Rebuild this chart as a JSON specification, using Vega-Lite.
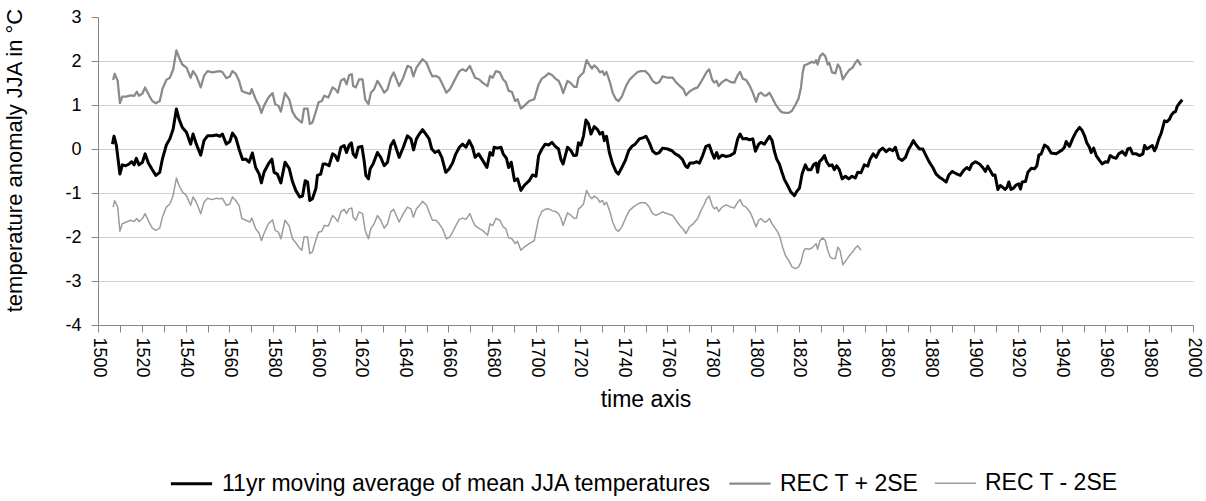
{
"$schema": "https://vega.github.io/schema/vega-lite/v6.json",
"width": 1095,
"height": 308,
"autosize": {"type": "none"},
"padding": {"left": 98, "top": 17, "right": 13, "bottom": 176},
"background": "white",
"config": {
  "font": "Liberation Sans",
  "view": {"stroke": null}
},
"data": {"values": [
{"series":"mean","year":1506.6,"value":0.11},{"series":"mean","year":1507.3,"value":0.29},{"series":"mean","year":1508.4,"value":0.08},{"series":"mean","year":1510.0,"value":-0.57},{"series":"mean","year":1511.1,"value":-0.36},{"series":"mean","year":1512.7,"value":-0.38},{"series":"mean","year":1514.2,"value":-0.34},{"series":"mean","year":1515.4,"value":-0.29},{"series":"mean","year":1516.5,"value":-0.36},{"series":"mean","year":1517.5,"value":-0.21},{"series":"mean","year":1518.7,"value":-0.36},{"series":"mean","year":1520.3,"value":-0.30},{"series":"mean","year":1521.5,"value":-0.11},{"series":"mean","year":1523.0,"value":-0.32},{"series":"mean","year":1524.8,"value":-0.47},{"series":"mean","year":1526.4,"value":-0.60},{"series":"mean","year":1528.2,"value":-0.53},{"series":"mean","year":1529.4,"value":-0.23},{"series":"mean","year":1531.2,"value":0.09},{"series":"mean","year":1532.8,"value":0.23},{"series":"mean","year":1534.3,"value":0.45},{"series":"mean","year":1535.8,"value":0.91},{"series":"mean","year":1537.0,"value":0.68},{"series":"mean","year":1538.5,"value":0.49},{"series":"mean","year":1540.4,"value":0.38},{"series":"mean","year":1542.3,"value":0.11},{"series":"mean","year":1543.4,"value":0.34},{"series":"mean","year":1544.9,"value":0.11},{"series":"mean","year":1546.9,"value":-0.14},{"series":"mean","year":1548.4,"value":0.19},{"series":"mean","year":1550.0,"value":0.30},{"series":"mean","year":1552.2,"value":0.30},{"series":"mean","year":1554.1,"value":0.32},{"series":"mean","year":1555.6,"value":0.29},{"series":"mean","year":1556.8,"value":0.34},{"series":"mean","year":1558.6,"value":0.11},{"series":"mean","year":1560.2,"value":0.17},{"series":"mean","year":1561.4,"value":0.36},{"series":"mean","year":1562.9,"value":0.26},{"series":"mean","year":1564.4,"value":0.00},{"series":"mean","year":1566.0,"value":-0.24},{"series":"mean","year":1567.5,"value":-0.23},{"series":"mean","year":1569.0,"value":-0.30},{"series":"mean","year":1570.5,"value":-0.09},{"series":"mean","year":1572.0,"value":-0.42},{"series":"mean","year":1573.6,"value":-0.57},{"series":"mean","year":1574.6,"value":-0.77},{"series":"mean","year":1575.8,"value":-0.53},{"series":"mean","year":1577.8,"value":-0.34},{"series":"mean","year":1579.4,"value":-0.23},{"series":"mean","year":1580.4,"value":-0.53},{"series":"mean","year":1581.9,"value":-0.57},{"series":"mean","year":1583.5,"value":-0.77},{"series":"mean","year":1585.4,"value":-0.30},{"series":"mean","year":1587.3,"value":-0.44},{"series":"mean","year":1588.8,"value":-0.74},{"series":"mean","year":1590.3,"value":-0.94},{"series":"mean","year":1592.1,"value":-1.09},{"series":"mean","year":1593.4,"value":-1.07},{"series":"mean","year":1594.6,"value":-0.72},{"series":"mean","year":1595.7,"value":-0.75},{"series":"mean","year":1596.7,"value":-1.17},{"series":"mean","year":1597.9,"value":-1.13},{"series":"mean","year":1599.5,"value":-0.90},{"series":"mean","year":1600.2,"value":-0.60},{"series":"mean","year":1601.7,"value":-0.57},{"series":"mean","year":1602.8,"value":-0.34},{"series":"mean","year":1604.0,"value":-0.34},{"series":"mean","year":1605.5,"value":-0.38},{"series":"mean","year":1607.1,"value":-0.11},{"series":"mean","year":1608.3,"value":-0.15},{"series":"mean","year":1609.5,"value":-0.26},{"series":"mean","year":1610.9,"value":0.04},{"series":"mean","year":1612.4,"value":0.08},{"series":"mean","year":1613.5,"value":-0.08},{"series":"mean","year":1614.7,"value":0.09},{"series":"mean","year":1615.7,"value":0.14},{"series":"mean","year":1616.5,"value":-0.11},{"series":"mean","year":1617.7,"value":-0.19},{"series":"mean","year":1618.9,"value":0.04},{"series":"mean","year":1620.5,"value":0.06},{"series":"mean","year":1621.5,"value":-0.26},{"series":"mean","year":1622.3,"value":-0.60},{"series":"mean","year":1623.5,"value":-0.68},{"series":"mean","year":1624.3,"value":-0.45},{"series":"mean","year":1625.6,"value":-0.34},{"series":"mean","year":1627.6,"value":-0.08},{"series":"mean","year":1629.1,"value":-0.19},{"series":"mean","year":1630.7,"value":-0.38},{"series":"mean","year":1632.2,"value":-0.30},{"series":"mean","year":1633.7,"value":0.08},{"series":"mean","year":1635.0,"value":0.19},{"series":"mean","year":1636.0,"value":0.04},{"series":"mean","year":1637.5,"value":-0.19},{"series":"mean","year":1639.4,"value":0.04},{"series":"mean","year":1641.3,"value":0.30},{"series":"mean","year":1642.9,"value":0.23},{"series":"mean","year":1644.1,"value":-0.02},{"series":"mean","year":1645.4,"value":0.23},{"series":"mean","year":1646.7,"value":0.34},{"series":"mean","year":1648.2,"value":0.44},{"series":"mean","year":1649.7,"value":0.34},{"series":"mean","year":1651.2,"value":0.23},{"series":"mean","year":1652.4,"value":0.00},{"series":"mean","year":1653.9,"value":-0.08},{"series":"mean","year":1655.5,"value":-0.04},{"series":"mean","year":1657.0,"value":-0.19},{"series":"mean","year":1658.8,"value":-0.53},{"series":"mean","year":1660.4,"value":-0.45},{"series":"mean","year":1661.9,"value":-0.32},{"series":"mean","year":1663.4,"value":-0.11},{"series":"mean","year":1665.0,"value":0.04},{"series":"mean","year":1666.5,"value":0.11},{"series":"mean","year":1668.0,"value":0.04},{"series":"mean","year":1669.5,"value":0.19},{"series":"mean","year":1671.0,"value":0.04},{"series":"mean","year":1672.2,"value":-0.19},{"series":"mean","year":1673.8,"value":-0.11},{"series":"mean","year":1675.3,"value":-0.23},{"series":"mean","year":1677.6,"value":-0.42},{"series":"mean","year":1679.0,"value":-0.08},{"series":"mean","year":1680.2,"value":-0.14},{"series":"mean","year":1680.9,"value":0.04},{"series":"mean","year":1682.4,"value":0.02},{"series":"mean","year":1684.0,"value":0.04},{"series":"mean","year":1685.0,"value":-0.11},{"series":"mean","year":1686.5,"value":-0.21},{"series":"mean","year":1687.5,"value":-0.42},{"series":"mean","year":1688.7,"value":-0.30},{"series":"mean","year":1690.2,"value":-0.72},{"series":"mean","year":1691.6,"value":-0.68},{"series":"mean","year":1693.1,"value":-0.94},{"series":"mean","year":1694.6,"value":-0.83},{"series":"mean","year":1696.9,"value":-0.72},{"series":"mean","year":1698.4,"value":-0.59},{"series":"mean","year":1700.0,"value":-0.62},{"series":"mean","year":1701.2,"value":-0.15},{"series":"mean","year":1702.7,"value":0.00},{"series":"mean","year":1704.2,"value":0.11},{"series":"mean","year":1705.7,"value":0.09},{"series":"mean","year":1707.3,"value":0.15},{"series":"mean","year":1708.8,"value":0.06},{"series":"mean","year":1710.3,"value":0.00},{"series":"mean","year":1711.4,"value":-0.24},{"series":"mean","year":1712.4,"value":-0.34},{"series":"mean","year":1714.4,"value":0.04},{"series":"mean","year":1716.0,"value":-0.04},{"series":"mean","year":1717.2,"value":-0.15},{"series":"mean","year":1718.5,"value":-0.14},{"series":"mean","year":1719.4,"value":0.14},{"series":"mean","year":1720.5,"value":0.09},{"series":"mean","year":1721.7,"value":0.30},{"series":"mean","year":1722.8,"value":0.66},{"series":"mean","year":1724.0,"value":0.57},{"series":"mean","year":1725.1,"value":0.34},{"series":"mean","year":1726.6,"value":0.51},{"series":"mean","year":1728.1,"value":0.44},{"series":"mean","year":1729.2,"value":0.34},{"series":"mean","year":1730.4,"value":0.38},{"series":"mean","year":1731.2,"value":0.19},{"series":"mean","year":1732.2,"value":0.29},{"series":"mean","year":1733.5,"value":-0.08},{"series":"mean","year":1735.0,"value":-0.34},{"series":"mean","year":1736.5,"value":-0.51},{"series":"mean","year":1737.6,"value":-0.57},{"series":"mean","year":1739.2,"value":-0.42},{"series":"mean","year":1740.8,"value":-0.26},{"series":"mean","year":1742.3,"value":-0.04},{"series":"mean","year":1743.8,"value":0.06},{"series":"mean","year":1745.3,"value":0.11},{"series":"mean","year":1747.2,"value":0.23},{"series":"mean","year":1749.0,"value":0.26},{"series":"mean","year":1750.2,"value":0.29},{"series":"mean","year":1751.7,"value":0.15},{"series":"mean","year":1753.2,"value":-0.04},{"series":"mean","year":1754.8,"value":-0.11},{"series":"mean","year":1756.3,"value":-0.08},{"series":"mean","year":1757.8,"value":0.02},{"series":"mean","year":1760.1,"value":0.00},{"series":"mean","year":1762.1,"value":-0.04},{"series":"mean","year":1763.6,"value":-0.11},{"series":"mean","year":1765.1,"value":-0.15},{"series":"mean","year":1766.9,"value":-0.24},{"series":"mean","year":1768.2,"value":-0.38},{"series":"mean","year":1769.2,"value":-0.42},{"series":"mean","year":1770.3,"value":-0.32},{"series":"mean","year":1771.8,"value":-0.32},{"series":"mean","year":1773.4,"value":-0.29},{"series":"mean","year":1774.6,"value":-0.32},{"series":"mean","year":1776.1,"value":-0.15},{"series":"mean","year":1777.6,"value":0.06},{"series":"mean","year":1779.1,"value":0.09},{"series":"mean","year":1780.4,"value":-0.09},{"series":"mean","year":1781.4,"value":-0.21},{"series":"mean","year":1782.5,"value":-0.08},{"series":"mean","year":1783.4,"value":-0.21},{"series":"mean","year":1785.0,"value":-0.14},{"series":"mean","year":1786.8,"value":-0.17},{"series":"mean","year":1788.6,"value":-0.15},{"series":"mean","year":1790.6,"value":-0.09},{"series":"mean","year":1792.1,"value":0.23},{"series":"mean","year":1793.2,"value":0.34},{"series":"mean","year":1794.4,"value":0.23},{"series":"mean","year":1795.9,"value":0.24},{"series":"mean","year":1797.4,"value":0.21},{"series":"mean","year":1799.0,"value":0.23},{"series":"mean","year":1800.2,"value":-0.05},{"series":"mean","year":1801.7,"value":0.11},{"series":"mean","year":1802.7,"value":0.15},{"series":"mean","year":1804.3,"value":0.11},{"series":"mean","year":1805.3,"value":0.19},{"series":"mean","year":1806.6,"value":0.29},{"series":"mean","year":1807.8,"value":0.19},{"series":"mean","year":1808.8,"value":-0.04},{"series":"mean","year":1809.9,"value":-0.23},{"series":"mean","year":1811.1,"value":-0.34},{"series":"mean","year":1812.3,"value":-0.53},{"series":"mean","year":1813.4,"value":-0.69},{"series":"mean","year":1814.9,"value":-0.83},{"series":"mean","year":1816.4,"value":-0.98},{"series":"mean","year":1818.0,"value":-1.06},{"series":"mean","year":1819.0,"value":-0.97},{"series":"mean","year":1820.3,"value":-0.89},{"series":"mean","year":1821.5,"value":-0.57},{"series":"mean","year":1823.0,"value":-0.36},{"series":"mean","year":1824.1,"value":-0.47},{"series":"mean","year":1825.6,"value":-0.47},{"series":"mean","year":1826.7,"value":-0.36},{"series":"mean","year":1827.9,"value":-0.32},{"series":"mean","year":1828.6,"value":-0.53},{"series":"mean","year":1829.4,"value":-0.29},{"series":"mean","year":1830.6,"value":-0.23},{"series":"mean","year":1831.7,"value":-0.15},{"series":"mean","year":1832.7,"value":-0.29},{"series":"mean","year":1833.9,"value":-0.38},{"series":"mean","year":1835.2,"value":-0.36},{"series":"mean","year":1836.2,"value":-0.47},{"series":"mean","year":1837.3,"value":-0.38},{"series":"mean","year":1838.5,"value":-0.47},{"series":"mean","year":1839.8,"value":-0.68},{"series":"mean","year":1841.3,"value":-0.62},{"series":"mean","year":1842.8,"value":-0.68},{"series":"mean","year":1844.3,"value":-0.62},{"series":"mean","year":1845.8,"value":-0.66},{"series":"mean","year":1846.9,"value":-0.53},{"series":"mean","year":1848.4,"value":-0.54},{"series":"mean","year":1849.9,"value":-0.36},{"series":"mean","year":1851.5,"value":-0.39},{"series":"mean","year":1852.5,"value":-0.24},{"series":"mean","year":1854.0,"value":-0.11},{"series":"mean","year":1855.3,"value":-0.19},{"series":"mean","year":1856.8,"value":-0.04},{"series":"mean","year":1858.3,"value":0.02},{"series":"mean","year":1859.9,"value":-0.06},{"series":"mean","year":1861.4,"value":0.00},{"series":"mean","year":1862.9,"value":-0.04},{"series":"mean","year":1864.1,"value":0.04},{"series":"mean","year":1865.6,"value":-0.21},{"series":"mean","year":1867.2,"value":-0.26},{"series":"mean","year":1868.7,"value":-0.19},{"series":"mean","year":1870.2,"value":0.00},{"series":"mean","year":1871.3,"value":0.09},{"series":"mean","year":1872.3,"value":0.19},{"series":"mean","year":1873.6,"value":0.09},{"series":"mean","year":1875.1,"value":0.00},{"series":"mean","year":1876.6,"value":0.00},{"series":"mean","year":1878.1,"value":-0.15},{"series":"mean","year":1879.6,"value":-0.30},{"series":"mean","year":1881.2,"value":-0.42},{"series":"mean","year":1882.7,"value":-0.57},{"series":"mean","year":1884.2,"value":-0.64},{"series":"mean","year":1885.7,"value":-0.69},{"series":"mean","year":1887.3,"value":-0.75},{"series":"mean","year":1888.5,"value":-0.59},{"series":"mean","year":1890.0,"value":-0.51},{"series":"mean","year":1891.1,"value":-0.54},{"series":"mean","year":1892.3,"value":-0.57},{"series":"mean","year":1893.7,"value":-0.60},{"series":"mean","year":1895.2,"value":-0.49},{"series":"mean","year":1896.7,"value":-0.42},{"series":"mean","year":1897.9,"value":-0.47},{"series":"mean","year":1899.1,"value":-0.34},{"series":"mean","year":1900.7,"value":-0.29},{"series":"mean","year":1902.5,"value":-0.34},{"series":"mean","year":1904.0,"value":-0.42},{"series":"mean","year":1905.2,"value":-0.51},{"series":"mean","year":1906.3,"value":-0.39},{"series":"mean","year":1907.4,"value":-0.49},{"series":"mean","year":1908.6,"value":-0.60},{"series":"mean","year":1909.6,"value":-0.59},{"series":"mean","year":1910.9,"value":-0.92},{"series":"mean","year":1912.0,"value":-0.83},{"series":"mean","year":1913.1,"value":-0.87},{"series":"mean","year":1914.2,"value":-0.92},{"series":"mean","year":1915.1,"value":-0.87},{"series":"mean","year":1915.9,"value":-0.75},{"series":"mean","year":1916.9,"value":-0.92},{"series":"mean","year":1918.0,"value":-0.89},{"series":"mean","year":1919.2,"value":-0.82},{"series":"mean","year":1920.5,"value":-0.79},{"series":"mean","year":1921.2,"value":-0.91},{"series":"mean","year":1922.0,"value":-0.75},{"series":"mean","year":1923.5,"value":-0.74},{"series":"mean","year":1924.6,"value":-0.53},{"series":"mean","year":1926.1,"value":-0.44},{"series":"mean","year":1927.6,"value":-0.45},{"series":"mean","year":1928.7,"value":-0.38},{"series":"mean","year":1929.6,"value":-0.14},{"series":"mean","year":1930.7,"value":-0.11},{"series":"mean","year":1932.2,"value":0.09},{"series":"mean","year":1933.7,"value":0.04},{"series":"mean","year":1935.2,"value":-0.09},{"series":"mean","year":1937.5,"value":-0.11},{"series":"mean","year":1939.0,"value":-0.06},{"series":"mean","year":1940.3,"value":-0.02},{"series":"mean","year":1941.3,"value":0.04},{"series":"mean","year":1942.1,"value":0.17},{"series":"mean","year":1943.6,"value":0.06},{"series":"mean","year":1945.1,"value":0.24},{"series":"mean","year":1946.6,"value":0.39},{"series":"mean","year":1948.2,"value":0.49},{"series":"mean","year":1949.4,"value":0.42},{"series":"mean","year":1950.5,"value":0.30},{"series":"mean","year":1951.5,"value":0.14},{"series":"mean","year":1952.7,"value":0.04},{"series":"mean","year":1953.5,"value":-0.08},{"series":"mean","year":1954.6,"value":0.02},{"series":"mean","year":1955.8,"value":-0.15},{"series":"mean","year":1957.3,"value":-0.26},{"series":"mean","year":1958.5,"value":-0.34},{"series":"mean","year":1960.0,"value":-0.29},{"series":"mean","year":1961.1,"value":-0.30},{"series":"mean","year":1962.2,"value":-0.15},{"series":"mean","year":1963.4,"value":-0.19},{"series":"mean","year":1964.9,"value":-0.21},{"series":"mean","year":1966.1,"value":-0.11},{"series":"mean","year":1967.7,"value":-0.06},{"series":"mean","year":1969.2,"value":-0.14},{"series":"mean","year":1970.2,"value":0.00},{"series":"mean","year":1971.3,"value":0.02},{"series":"mean","year":1972.5,"value":-0.11},{"series":"mean","year":1974.1,"value":-0.11},{"series":"mean","year":1975.6,"value":-0.15},{"series":"mean","year":1977.1,"value":-0.11},{"series":"mean","year":1977.9,"value":0.08},{"series":"mean","year":1978.9,"value":0.00},{"series":"mean","year":1980.1,"value":0.04},{"series":"mean","year":1981.4,"value":0.08},{"series":"mean","year":1982.4,"value":-0.04},{"series":"mean","year":1983.2,"value":0.04},{"series":"mean","year":1984.4,"value":0.23},{"series":"mean","year":1985.5,"value":0.36},{"series":"mean","year":1986.2,"value":0.49},{"series":"mean","year":1987.0,"value":0.64},{"series":"mean","year":1988.1,"value":0.62},{"series":"mean","year":1989.3,"value":0.68},{"series":"mean","year":1990.1,"value":0.77},{"series":"mean","year":1991.1,"value":0.83},{"series":"mean","year":1992.0,"value":0.85},{"series":"mean","year":1992.8,"value":0.97},{"series":"mean","year":1993.8,"value":1.04},{"series":"mean","year":1995.1,"value":1.12},
{"series":"upper","year":1506.9,"value":1.57},{"series":"upper","year":1507.6,"value":1.71},{"series":"upper","year":1509.0,"value":1.55},{"series":"upper","year":1510.0,"value":1.04},{"series":"upper","year":1511.1,"value":1.19},{"series":"upper","year":1512.9,"value":1.19},{"series":"upper","year":1514.9,"value":1.22},{"series":"upper","year":1516.5,"value":1.21},{"series":"upper","year":1517.7,"value":1.30},{"series":"upper","year":1518.7,"value":1.21},{"series":"upper","year":1520.3,"value":1.26},{"series":"upper","year":1521.5,"value":1.40},{"series":"upper","year":1523.3,"value":1.22},{"series":"upper","year":1524.8,"value":1.09},{"series":"upper","year":1526.4,"value":1.04},{"series":"upper","year":1528.2,"value":1.09},{"series":"upper","year":1529.4,"value":1.36},{"series":"upper","year":1531.2,"value":1.57},{"series":"upper","year":1532.8,"value":1.62},{"series":"upper","year":1534.3,"value":1.80},{"series":"upper","year":1535.8,"value":2.24},{"series":"upper","year":1537.0,"value":2.08},{"series":"upper","year":1538.5,"value":1.92},{"series":"upper","year":1540.4,"value":1.85},{"series":"upper","year":1542.3,"value":1.62},{"series":"upper","year":1543.4,"value":1.77},{"series":"upper","year":1544.9,"value":1.66},{"series":"upper","year":1546.9,"value":1.40},{"series":"upper","year":1548.4,"value":1.66},{"series":"upper","year":1550.0,"value":1.77},{"series":"upper","year":1552.2,"value":1.74},{"series":"upper","year":1554.1,"value":1.76},{"series":"upper","year":1555.6,"value":1.77},{"series":"upper","year":1556.8,"value":1.75},{"series":"upper","year":1558.6,"value":1.61},{"series":"upper","year":1560.2,"value":1.65},{"series":"upper","year":1561.4,"value":1.77},{"series":"upper","year":1562.9,"value":1.71},{"series":"upper","year":1564.4,"value":1.55},{"series":"upper","year":1565.7,"value":1.32},{"series":"upper","year":1567.5,"value":1.28},{"series":"upper","year":1569.4,"value":1.25},{"series":"upper","year":1570.2,"value":1.36},{"series":"upper","year":1572.0,"value":1.13},{"series":"upper","year":1573.6,"value":0.98},{"series":"upper","year":1574.6,"value":0.82},{"series":"upper","year":1575.8,"value":0.98},{"series":"upper","year":1577.8,"value":1.17},{"series":"upper","year":1579.7,"value":1.27},{"series":"upper","year":1580.9,"value":1.02},{"series":"upper","year":1582.4,"value":0.98},{"series":"upper","year":1583.5,"value":0.85},{"series":"upper","year":1585.4,"value":1.27},{"series":"upper","year":1587.3,"value":1.13},{"series":"upper","year":1588.8,"value":0.85},{"series":"upper","year":1590.3,"value":0.72},{"series":"upper","year":1592.1,"value":0.64},{"series":"upper","year":1593.1,"value":0.60},{"series":"upper","year":1594.1,"value":0.92},{"series":"upper","year":1595.7,"value":0.92},{"series":"upper","year":1596.7,"value":0.57},{"series":"upper","year":1597.9,"value":0.60},{"series":"upper","year":1599.1,"value":0.79},{"series":"upper","year":1600.7,"value":1.06},{"series":"upper","year":1602.2,"value":1.09},{"series":"upper","year":1603.3,"value":1.21},{"series":"upper","year":1605.2,"value":1.17},{"series":"upper","year":1607.1,"value":1.40},{"series":"upper","year":1608.3,"value":1.36},{"series":"upper","year":1609.5,"value":1.28},{"series":"upper","year":1610.9,"value":1.55},{"series":"upper","year":1612.4,"value":1.60},{"series":"upper","year":1613.5,"value":1.47},{"series":"upper","year":1614.7,"value":1.68},{"series":"upper","year":1615.9,"value":1.70},{"series":"upper","year":1616.5,"value":1.43},{"series":"upper","year":1617.7,"value":1.40},{"series":"upper","year":1619.2,"value":1.58},{"series":"upper","year":1620.8,"value":1.58},{"series":"upper","year":1622.0,"value":1.13},{"series":"upper","year":1623.5,"value":1.02},{"series":"upper","year":1624.6,"value":1.28},{"series":"upper","year":1626.1,"value":1.36},{"series":"upper","year":1627.6,"value":1.55},{"series":"upper","year":1629.1,"value":1.43},{"series":"upper","year":1630.7,"value":1.28},{"series":"upper","year":1632.2,"value":1.36},{"series":"upper","year":1633.7,"value":1.62},{"series":"upper","year":1635.0,"value":1.74},{"series":"upper","year":1636.0,"value":1.62},{"series":"upper","year":1637.5,"value":1.43},{"series":"upper","year":1639.4,"value":1.62},{"series":"upper","year":1641.3,"value":1.89},{"series":"upper","year":1642.9,"value":1.85},{"series":"upper","year":1644.0,"value":1.65},{"series":"upper","year":1645.4,"value":1.85},{"series":"upper","year":1647.0,"value":1.96},{"series":"upper","year":1648.2,"value":2.04},{"series":"upper","year":1650.0,"value":1.96},{"series":"upper","year":1651.5,"value":1.77},{"series":"upper","year":1652.7,"value":1.65},{"series":"upper","year":1654.3,"value":1.66},{"series":"upper","year":1655.8,"value":1.62},{"series":"upper","year":1657.3,"value":1.47},{"series":"upper","year":1659.1,"value":1.28},{"series":"upper","year":1660.7,"value":1.36},{"series":"upper","year":1661.9,"value":1.47},{"series":"upper","year":1663.4,"value":1.62},{"series":"upper","year":1665.0,"value":1.77},{"series":"upper","year":1666.5,"value":1.81},{"series":"upper","year":1668.0,"value":1.77},{"series":"upper","year":1669.8,"value":1.89},{"series":"upper","year":1671.0,"value":1.75},{"series":"upper","year":1672.2,"value":1.62},{"series":"upper","year":1674.1,"value":1.58},{"series":"upper","year":1675.6,"value":1.51},{"series":"upper","year":1677.9,"value":1.43},{"series":"upper","year":1679.0,"value":1.66},{"series":"upper","year":1680.2,"value":1.62},{"series":"upper","year":1681.7,"value":1.77},{"series":"upper","year":1683.5,"value":1.74},{"series":"upper","year":1685.0,"value":1.58},{"series":"upper","year":1686.2,"value":1.52},{"series":"upper","year":1687.5,"value":1.32},{"series":"upper","year":1689.0,"value":1.30},{"series":"upper","year":1690.5,"value":1.09},{"series":"upper","year":1691.6,"value":1.13},{"series":"upper","year":1693.1,"value":0.92},{"series":"upper","year":1694.6,"value":0.98},{"series":"upper","year":1696.9,"value":1.09},{"series":"upper","year":1699.2,"value":1.13},{"series":"upper","year":1701.2,"value":1.47},{"series":"upper","year":1702.7,"value":1.60},{"series":"upper","year":1704.2,"value":1.65},{"series":"upper","year":1705.7,"value":1.72},{"series":"upper","year":1707.3,"value":1.68},{"series":"upper","year":1708.8,"value":1.60},{"series":"upper","year":1710.3,"value":1.55},{"series":"upper","year":1711.4,"value":1.43},{"series":"upper","year":1712.4,"value":1.27},{"series":"upper","year":1714.4,"value":1.55},{"series":"upper","year":1716.0,"value":1.49},{"series":"upper","year":1717.5,"value":1.41},{"series":"upper","year":1718.5,"value":1.41},{"series":"upper","year":1719.4,"value":1.62},{"series":"upper","year":1720.5,"value":1.68},{"series":"upper","year":1721.7,"value":1.74},{"series":"upper","year":1723.1,"value":2.02},{"series":"upper","year":1724.3,"value":1.92},{"series":"upper","year":1725.5,"value":1.83},{"series":"upper","year":1726.6,"value":1.90},{"series":"upper","year":1728.1,"value":1.83},{"series":"upper","year":1729.2,"value":1.74},{"series":"upper","year":1730.4,"value":1.77},{"series":"upper","year":1731.2,"value":1.68},{"series":"upper","year":1732.2,"value":1.75},{"series":"upper","year":1733.8,"value":1.51},{"series":"upper","year":1735.0,"value":1.28},{"series":"upper","year":1736.5,"value":1.13},{"series":"upper","year":1737.7,"value":1.09},{"series":"upper","year":1739.2,"value":1.19},{"series":"upper","year":1741.1,"value":1.43},{"series":"upper","year":1742.6,"value":1.57},{"series":"upper","year":1744.4,"value":1.66},{"series":"upper","year":1746.4,"value":1.75},{"series":"upper","year":1747.9,"value":1.77},{"series":"upper","year":1749.9,"value":1.77},{"series":"upper","year":1751.7,"value":1.68},{"series":"upper","year":1753.2,"value":1.55},{"series":"upper","year":1754.8,"value":1.49},{"series":"upper","year":1756.3,"value":1.52},{"series":"upper","year":1757.8,"value":1.65},{"series":"upper","year":1760.1,"value":1.62},{"series":"upper","year":1762.4,"value":1.62},{"series":"upper","year":1763.9,"value":1.52},{"series":"upper","year":1765.7,"value":1.43},{"series":"upper","year":1767.3,"value":1.36},{"series":"upper","year":1768.5,"value":1.22},{"series":"upper","year":1770.0,"value":1.30},{"series":"upper","year":1771.8,"value":1.36},{"series":"upper","year":1773.8,"value":1.40},{"series":"upper","year":1775.3,"value":1.52},{"series":"upper","year":1776.9,"value":1.66},{"series":"upper","year":1777.9,"value":1.75},{"series":"upper","year":1779.1,"value":1.81},{"series":"upper","year":1780.4,"value":1.58},{"series":"upper","year":1781.4,"value":1.51},{"series":"upper","year":1782.5,"value":1.55},{"series":"upper","year":1783.4,"value":1.43},{"series":"upper","year":1785.0,"value":1.52},{"series":"upper","year":1786.8,"value":1.58},{"series":"upper","year":1789.0,"value":1.52},{"series":"upper","year":1790.6,"value":1.51},{"series":"upper","year":1792.1,"value":1.68},{"series":"upper","year":1793.2,"value":1.75},{"series":"upper","year":1794.4,"value":1.60},{"series":"upper","year":1795.9,"value":1.57},{"series":"upper","year":1797.7,"value":1.43},{"series":"upper","year":1799.0,"value":1.28},{"series":"upper","year":1800.5,"value":1.07},{"series":"upper","year":1801.7,"value":1.25},{"series":"upper","year":1802.7,"value":1.28},{"series":"upper","year":1804.3,"value":1.21},{"series":"upper","year":1805.3,"value":1.22},{"series":"upper","year":1806.6,"value":1.28},{"series":"upper","year":1807.8,"value":1.17},{"series":"upper","year":1809.3,"value":1.02},{"series":"upper","year":1810.4,"value":0.94},{"series":"upper","year":1811.4,"value":0.87},{"series":"upper","year":1812.6,"value":0.83},{"series":"upper","year":1813.9,"value":0.82},{"series":"upper","year":1815.4,"value":0.82},{"series":"upper","year":1816.9,"value":0.87},{"series":"upper","year":1818.4,"value":1.00},{"series":"upper","year":1819.9,"value":1.15},{"series":"upper","year":1821.0,"value":1.40},{"series":"upper","year":1821.8,"value":1.74},{"series":"upper","year":1822.5,"value":1.90},{"series":"upper","year":1823.6,"value":1.92},{"series":"upper","year":1824.8,"value":1.95},{"series":"upper","year":1826.0,"value":1.98},{"series":"upper","year":1827.1,"value":1.96},{"series":"upper","year":1827.9,"value":2.02},{"series":"upper","year":1828.6,"value":1.92},{"series":"upper","year":1829.7,"value":2.11},{"series":"upper","year":1830.9,"value":2.17},{"series":"upper","year":1832.1,"value":2.11},{"series":"upper","year":1833.2,"value":1.92},{"series":"upper","year":1833.9,"value":1.96},{"series":"upper","year":1835.2,"value":1.74},{"series":"upper","year":1836.7,"value":1.72},{"series":"upper","year":1837.8,"value":1.92},{"series":"upper","year":1838.8,"value":1.85},{"series":"upper","year":1840.1,"value":1.58},{"series":"upper","year":1841.6,"value":1.70},{"series":"upper","year":1843.1,"value":1.80},{"series":"upper","year":1844.6,"value":1.85},{"series":"upper","year":1845.8,"value":1.96},{"series":"upper","year":1846.9,"value":2.02},{"series":"upper","year":1848.4,"value":1.90},
{"series":"lower","year":1506.9,"value":-1.32},{"series":"lower","year":1507.6,"value":-1.17},{"series":"lower","year":1509.0,"value":-1.32},{"series":"lower","year":1510.0,"value":-1.87},{"series":"lower","year":1511.1,"value":-1.70},{"series":"lower","year":1512.9,"value":-1.66},{"series":"lower","year":1514.9,"value":-1.62},{"series":"lower","year":1516.5,"value":-1.65},{"series":"lower","year":1517.7,"value":-1.58},{"series":"lower","year":1518.7,"value":-1.65},{"series":"lower","year":1520.3,"value":-1.58},{"series":"lower","year":1521.5,"value":-1.47},{"series":"lower","year":1523.3,"value":-1.66},{"series":"lower","year":1524.8,"value":-1.80},{"series":"lower","year":1526.4,"value":-1.85},{"series":"lower","year":1528.2,"value":-1.80},{"series":"lower","year":1529.4,"value":-1.55},{"series":"lower","year":1531.2,"value":-1.32},{"series":"lower","year":1532.8,"value":-1.25},{"series":"lower","year":1534.3,"value":-1.06},{"series":"lower","year":1535.8,"value":-0.66},{"series":"lower","year":1537.0,"value":-0.83},{"series":"lower","year":1538.5,"value":-0.97},{"series":"lower","year":1540.4,"value":-1.06},{"series":"lower","year":1542.3,"value":-1.28},{"series":"lower","year":1543.4,"value":-1.09},{"series":"lower","year":1544.9,"value":-1.21},{"series":"lower","year":1546.9,"value":-1.47},{"series":"lower","year":1548.4,"value":-1.21},{"series":"lower","year":1550.0,"value":-1.12},{"series":"lower","year":1552.2,"value":-1.15},{"series":"lower","year":1554.1,"value":-1.12},{"series":"lower","year":1555.6,"value":-1.13},{"series":"lower","year":1556.8,"value":-1.12},{"series":"lower","year":1558.6,"value":-1.28},{"series":"lower","year":1560.2,"value":-1.25},{"series":"lower","year":1561.4,"value":-1.09},{"series":"lower","year":1562.9,"value":-1.17},{"series":"lower","year":1564.4,"value":-1.28},{"series":"lower","year":1565.7,"value":-1.58},{"series":"lower","year":1567.5,"value":-1.62},{"series":"lower","year":1569.4,"value":-1.66},{"series":"lower","year":1570.2,"value":-1.57},{"series":"lower","year":1572.0,"value":-1.81},{"series":"lower","year":1573.6,"value":-1.92},{"series":"lower","year":1574.6,"value":-2.08},{"series":"lower","year":1575.8,"value":-1.92},{"series":"lower","year":1577.8,"value":-1.70},{"series":"lower","year":1579.7,"value":-1.61},{"series":"lower","year":1580.9,"value":-1.85},{"series":"lower","year":1582.4,"value":-1.89},{"series":"lower","year":1583.5,"value":-2.04},{"series":"lower","year":1585.4,"value":-1.62},{"series":"lower","year":1587.3,"value":-1.75},{"series":"lower","year":1588.8,"value":-2.04},{"series":"lower","year":1590.3,"value":-2.13},{"series":"lower","year":1592.1,"value":-2.26},{"series":"lower","year":1593.1,"value":-2.30},{"series":"lower","year":1594.1,"value":-2.00},{"series":"lower","year":1595.7,"value":-2.00},{"series":"lower","year":1596.7,"value":-2.38},{"series":"lower","year":1597.9,"value":-2.34},{"series":"lower","year":1599.1,"value":-2.13},{"series":"lower","year":1600.7,"value":-1.89},{"series":"lower","year":1602.2,"value":-1.87},{"series":"lower","year":1603.3,"value":-1.74},{"series":"lower","year":1605.2,"value":-1.75},{"series":"lower","year":1607.1,"value":-1.51},{"series":"lower","year":1608.3,"value":-1.57},{"series":"lower","year":1609.5,"value":-1.65},{"series":"lower","year":1610.9,"value":-1.43},{"series":"lower","year":1612.4,"value":-1.37},{"series":"lower","year":1613.5,"value":-1.47},{"series":"lower","year":1614.7,"value":-1.36},{"series":"lower","year":1615.9,"value":-1.34},{"series":"lower","year":1616.5,"value":-1.55},{"series":"lower","year":1617.7,"value":-1.62},{"series":"lower","year":1619.2,"value":-1.43},{"series":"lower","year":1620.8,"value":-1.47},{"series":"lower","year":1622.0,"value":-1.85},{"series":"lower","year":1623.5,"value":-2.04},{"series":"lower","year":1624.6,"value":-1.81},{"series":"lower","year":1626.1,"value":-1.70},{"series":"lower","year":1627.6,"value":-1.51},{"series":"lower","year":1629.1,"value":-1.62},{"series":"lower","year":1630.7,"value":-1.80},{"series":"lower","year":1632.2,"value":-1.70},{"series":"lower","year":1633.7,"value":-1.43},{"series":"lower","year":1635.0,"value":-1.37},{"series":"lower","year":1636.0,"value":-1.49},{"series":"lower","year":1637.5,"value":-1.66},{"series":"lower","year":1639.4,"value":-1.47},{"series":"lower","year":1641.3,"value":-1.32},{"series":"lower","year":1642.9,"value":-1.36},{"series":"lower","year":1644.0,"value":-1.55},{"series":"lower","year":1645.4,"value":-1.36},{"series":"lower","year":1647.0,"value":-1.27},{"series":"lower","year":1648.2,"value":-1.19},{"series":"lower","year":1650.0,"value":-1.28},{"series":"lower","year":1651.5,"value":-1.47},{"series":"lower","year":1652.7,"value":-1.62},{"series":"lower","year":1654.3,"value":-1.62},{"series":"lower","year":1655.8,"value":-1.70},{"series":"lower","year":1657.3,"value":-1.81},{"series":"lower","year":1659.1,"value":-2.04},{"series":"lower","year":1660.7,"value":-2.00},{"series":"lower","year":1661.9,"value":-1.89},{"series":"lower","year":1663.4,"value":-1.74},{"series":"lower","year":1665.0,"value":-1.60},{"series":"lower","year":1666.5,"value":-1.57},{"series":"lower","year":1668.0,"value":-1.60},{"series":"lower","year":1669.8,"value":-1.47},{"series":"lower","year":1671.0,"value":-1.62},{"series":"lower","year":1672.2,"value":-1.74},{"series":"lower","year":1674.1,"value":-1.81},{"series":"lower","year":1675.6,"value":-1.85},{"series":"lower","year":1677.9,"value":-1.96},{"series":"lower","year":1679.0,"value":-1.70},{"series":"lower","year":1680.2,"value":-1.74},{"series":"lower","year":1681.7,"value":-1.58},{"series":"lower","year":1683.5,"value":-1.62},{"series":"lower","year":1685.0,"value":-1.77},{"series":"lower","year":1686.2,"value":-1.81},{"series":"lower","year":1687.5,"value":-2.02},{"series":"lower","year":1689.0,"value":-2.04},{"series":"lower","year":1690.5,"value":-2.15},{"series":"lower","year":1691.6,"value":-2.10},{"series":"lower","year":1693.1,"value":-2.30},{"series":"lower","year":1694.6,"value":-2.23},{"series":"lower","year":1696.9,"value":-2.15},{"series":"lower","year":1699.2,"value":-2.08},{"series":"lower","year":1701.2,"value":-1.58},{"series":"lower","year":1702.7,"value":-1.42},{"series":"lower","year":1704.2,"value":-1.37},{"series":"lower","year":1705.7,"value":-1.36},{"series":"lower","year":1707.3,"value":-1.40},{"series":"lower","year":1708.8,"value":-1.42},{"series":"lower","year":1710.3,"value":-1.47},{"series":"lower","year":1711.4,"value":-1.58},{"series":"lower","year":1712.4,"value":-1.74},{"series":"lower","year":1714.4,"value":-1.45},{"series":"lower","year":1716.0,"value":-1.51},{"series":"lower","year":1717.5,"value":-1.58},{"series":"lower","year":1718.5,"value":-1.57},{"series":"lower","year":1719.4,"value":-1.36},{"series":"lower","year":1720.5,"value":-1.32},{"series":"lower","year":1721.7,"value":-1.25},{"series":"lower","year":1723.1,"value":-0.94},{"series":"lower","year":1724.3,"value":-1.06},{"series":"lower","year":1725.5,"value":-1.13},{"series":"lower","year":1726.6,"value":-1.07},{"series":"lower","year":1728.1,"value":-1.12},{"series":"lower","year":1729.2,"value":-1.21},{"series":"lower","year":1730.4,"value":-1.17},{"series":"lower","year":1731.2,"value":-1.27},{"series":"lower","year":1732.2,"value":-1.21},{"series":"lower","year":1733.8,"value":-1.43},{"series":"lower","year":1735.0,"value":-1.66},{"series":"lower","year":1736.5,"value":-1.83},{"series":"lower","year":1737.7,"value":-1.87},{"series":"lower","year":1739.2,"value":-1.77},{"series":"lower","year":1741.1,"value":-1.55},{"series":"lower","year":1742.6,"value":-1.40},{"series":"lower","year":1744.4,"value":-1.32},{"series":"lower","year":1746.4,"value":-1.25},{"series":"lower","year":1747.9,"value":-1.22},{"series":"lower","year":1749.9,"value":-1.22},{"series":"lower","year":1751.7,"value":-1.32},{"series":"lower","year":1753.2,"value":-1.47},{"series":"lower","year":1754.8,"value":-1.51},{"series":"lower","year":1756.3,"value":-1.47},{"series":"lower","year":1757.8,"value":-1.43},{"series":"lower","year":1760.1,"value":-1.47},{"series":"lower","year":1762.4,"value":-1.51},{"series":"lower","year":1763.9,"value":-1.62},{"series":"lower","year":1765.7,"value":-1.74},{"series":"lower","year":1767.3,"value":-1.83},{"series":"lower","year":1768.5,"value":-1.92},{"series":"lower","year":1770.0,"value":-1.77},{"series":"lower","year":1771.8,"value":-1.70},{"series":"lower","year":1773.8,"value":-1.58},{"series":"lower","year":1775.3,"value":-1.40},{"series":"lower","year":1776.9,"value":-1.25},{"series":"lower","year":1777.9,"value":-1.13},{"series":"lower","year":1779.1,"value":-1.07},{"series":"lower","year":1780.4,"value":-1.28},{"series":"lower","year":1781.4,"value":-1.36},{"series":"lower","year":1782.5,"value":-1.32},{"series":"lower","year":1783.4,"value":-1.42},{"series":"lower","year":1785.0,"value":-1.32},{"series":"lower","year":1786.8,"value":-1.27},{"series":"lower","year":1789.0,"value":-1.32},{"series":"lower","year":1790.6,"value":-1.34},{"series":"lower","year":1792.1,"value":-1.21},{"series":"lower","year":1793.2,"value":-1.15},{"series":"lower","year":1794.4,"value":-1.28},{"series":"lower","year":1795.9,"value":-1.32},{"series":"lower","year":1797.7,"value":-1.43},{"series":"lower","year":1799.0,"value":-1.58},{"series":"lower","year":1800.5,"value":-1.77},{"series":"lower","year":1801.7,"value":-1.62},{"series":"lower","year":1802.7,"value":-1.58},{"series":"lower","year":1804.3,"value":-1.66},{"series":"lower","year":1805.3,"value":-1.65},{"series":"lower","year":1806.6,"value":-1.58},{"series":"lower","year":1807.8,"value":-1.70},{"series":"lower","year":1809.3,"value":-1.81},{"series":"lower","year":1810.4,"value":-1.89},{"series":"lower","year":1811.4,"value":-2.00},{"series":"lower","year":1812.6,"value":-2.23},{"series":"lower","year":1813.9,"value":-2.42},{"series":"lower","year":1815.4,"value":-2.53},{"series":"lower","year":1816.9,"value":-2.68},{"series":"lower","year":1818.4,"value":-2.72},{"series":"lower","year":1819.9,"value":-2.68},{"series":"lower","year":1821.0,"value":-2.57},{"series":"lower","year":1822.1,"value":-2.34},{"series":"lower","year":1823.0,"value":-2.26},{"series":"lower","year":1824.5,"value":-2.28},{"series":"lower","year":1826.0,"value":-2.25},{"series":"lower","year":1827.1,"value":-2.20},{"series":"lower","year":1827.9,"value":-2.15},{"series":"lower","year":1828.6,"value":-2.28},{"series":"lower","year":1829.7,"value":-2.08},{"series":"lower","year":1830.9,"value":-2.02},{"series":"lower","year":1832.1,"value":-2.08},{"series":"lower","year":1833.2,"value":-2.30},{"series":"lower","year":1834.3,"value":-2.45},{"series":"lower","year":1835.2,"value":-2.49},{"series":"lower","year":1836.7,"value":-2.49},{"series":"lower","year":1837.8,"value":-2.23},{"series":"lower","year":1838.8,"value":-2.30},{"series":"lower","year":1840.1,"value":-2.63},{"series":"lower","year":1841.6,"value":-2.53},{"series":"lower","year":1843.1,"value":-2.42},{"series":"lower","year":1844.6,"value":-2.34},{"series":"lower","year":1845.8,"value":-2.25},{"series":"lower","year":1846.9,"value":-2.20},{"series":"lower","year":1848.4,"value":-2.30}
]},
"mark": {"type": "line", "strokeJoin": "round"},
"encoding": {
  "x": {"field": "year", "type": "quantitative", "scale": {"domain": [1500, 2000], "nice": false, "zero": false},
    "axis": {"title": "time axis", "values": [1500,1510,1520,1530,1540,1550,1560,1570,1580,1590,1600,1610,1620,1630,1640,1650,1660,1670,1680,1690,1700,1710,1720,1730,1740,1750,1760,1770,1780,1790,1800,1810,1820,1830,1840,1850,1860,1870,1880,1890,1900,1910,1920,1930,1940,1950,1960,1970,1980,1990,2000],
      "labelExpr": "datum.value % 20 == 0 ? '' + datum.value : ''", "labelAngle": 90, "labelAlign": "left", "labelBaseline": "middle",
      "grid": false, "domainColor": "#868686", "tickColor": "#868686", "tickSize": 7, "labelFontSize": 18, "labelColor": "black", "labelPadding": 5, "labelFlush": false, "labelOverlap": false,
      "titleFontSize": 23, "titleFontWeight": "normal", "titleColor": "black", "titlePadding": 11}},
  "y": {"field": "value", "type": "quantitative", "scale": {"domain": [-4, 3], "nice": false, "zero": false},
    "axis": {"title": "temperature anomaly JJA in °C", "values": [-4,-3,-2,-1,0,1,2,3], "labelExpr": "'' + datum.value",
      "gridColor": {"condition": {"test": "datum.value == 3 || datum.value == -4", "value": "transparent"}, "value": "#cfcfcf"},
      "domainColor": "#868686", "tickColor": "#868686", "tickSize": 7, "labelFontSize": 18, "labelColor": "black", "labelPadding": 10, "labelFlush": false,
      "titleFontSize": 22, "titleFontWeight": "normal", "titleColor": "black", "titleX": -84, "titleY": 143, "titleBaseline": "middle"}},
  "color": {"field": "series", "type": "nominal",
    "scale": {"domain": ["mean", "upper", "lower"], "range": ["#000000", "#8a8a8a", "#9c9c9c"]},
    "legend": {"title": null, "orient": "none", "legendX": 71, "legendY": 444, "direction": "horizontal", "symbolType": "stroke", "symbolSize": 1700, "labelFontSize": 23, "labelColor": "black", "labelLimit": 0, "labelOffset": 8, "columnPadding": 12,
      "labelExpr": "datum.value == 'mean' ? '11yr moving average of mean JJA temperatures' : datum.value == 'upper' ? 'REC T + 2SE' : 'REC T - 2SE'"}},
  "strokeWidth": {"field": "series", "type": "nominal",
    "scale": {"domain": ["mean", "upper", "lower"], "range": [3, 1.5, 1.5]},
    "legend": {"title": null, "orient": "none", "legendX": 71, "legendY": 444, "direction": "horizontal", "symbolType": "stroke", "symbolSize": 1700, "labelFontSize": 23, "labelColor": "black", "labelLimit": 0, "labelOffset": 8, "columnPadding": 12,
      "labelExpr": "datum.value == 'mean' ? '11yr moving average of mean JJA temperatures' : datum.value == 'upper' ? 'REC T + 2SE' : 'REC T - 2SE'"}}
}
}
